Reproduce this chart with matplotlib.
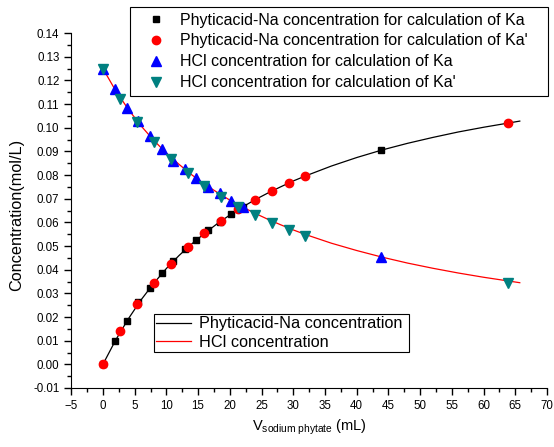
import matplotlib
matplotlib.use("Agg")
import matplotlib.pyplot as plt
from matplotlib.lines import Line2D
from matplotlib.ticker import MultipleLocator

plt.rcParams["font.family"] = ["Liberation Sans", "DejaVu Sans"]
plt.rcParams["mathtext.fontset"] = "custom"
plt.rcParams["mathtext.rm"] = "Liberation Sans"
plt.rcParams["mathtext.it"] = "Liberation Sans"

# scatter data
na_ka_x = [0.0, 1.9, 3.8, 5.6, 7.4, 9.25, 11.1, 12.9, 14.7, 16.6, 18.4, 20.2, 22.1, 43.9]
na_ka_y = [0.0, 0.0097, 0.0184, 0.0262, 0.0324, 0.0384, 0.0436, 0.0486, 0.0525, 0.0567,
           0.0602, 0.0637, 0.0666, 0.0904]
na_kap_x = [0.0, 2.7, 5.4, 8.0, 10.8, 13.4, 16.0, 18.6, 21.3, 24.0, 26.7, 29.4, 31.9, 63.9]
na_kap_y = [0.0, 0.0139, 0.0254, 0.0344, 0.0426, 0.0494, 0.0556, 0.0607, 0.0655, 0.0694,
            0.0733, 0.0767, 0.0796, 0.1021]
hcl_ka_x = na_ka_x
hcl_ka_y = [0.125, 0.1163, 0.1085, 0.1027, 0.0965, 0.0912, 0.0858, 0.0825, 0.0786, 0.0749,
            0.0723, 0.0692, 0.0663, 0.0454]
hcl_kap_x = na_kap_x
hcl_kap_y = [0.125, 0.1121, 0.1023, 0.0940, 0.0866, 0.0807, 0.0752, 0.0706, 0.0664, 0.0630,
             0.0598, 0.0567, 0.0541, 0.0344]

# fitted curves
curve_x = [0, 2, 4, 6, 8, 10, 12, 14, 16, 18, 20, 22, 24, 26, 28, 30, 32, 36, 40, 44,
           48, 52, 56, 60, 65.7]
na_curve = [0.0, 0.0102, 0.0192, 0.0272, 0.0342, 0.0405, 0.0460, 0.0509, 0.0553, 0.0594,
            0.0631, 0.0665, 0.0696, 0.0724, 0.0750, 0.0775, 0.0797, 0.0838, 0.0874, 0.0906,
            0.0934, 0.0959, 0.0982, 0.1002, 0.1028]
hcl_curve = [0.125, 0.1157, 0.1078, 0.1008, 0.0947, 0.0893, 0.0845, 0.0801, 0.0762, 0.0727,
             0.0694, 0.0665, 0.0638, 0.0613, 0.0590, 0.0568, 0.0548, 0.0512, 0.0481, 0.0453,
             0.0428, 0.0406, 0.0386, 0.0368, 0.0345]

W, H = 554, 447
fig = plt.figure(figsize=(W / 100, H / 100), dpi=100)
ax = fig.add_axes([0.1285, 0.132, 0.859, 0.794])

ax.plot(curve_x, na_curve, color="black", lw=0.9, zorder=2)
ax.plot(curve_x, hcl_curve, color="red", lw=0.9, zorder=2)

ax.plot(na_ka_x, na_ka_y, "s", color="black", ms=5, ls="none", zorder=3)
ax.plot(na_kap_x, na_kap_y, "o", color="red", ms=6, ls="none", zorder=4)
ax.plot(hcl_ka_x, hcl_ka_y, "^", color="blue", ms=7, ls="none", zorder=5)
ax.plot(hcl_kap_x, hcl_kap_y, "v", color="#008080", ms=7, ls="none", zorder=6)

ax.set_xlim(-5, 70)
ax.set_ylim(-0.01, 0.14)
ax.xaxis.set_major_locator(MultipleLocator(5))
ax.xaxis.set_minor_locator(MultipleLocator(2.5))
ax.yaxis.set_major_locator(MultipleLocator(0.01))
ax.yaxis.set_minor_locator(MultipleLocator(0.005))
ax.yaxis.set_major_formatter(plt.FuncFormatter(lambda v, p: f"{v:.2f}"))
ax.tick_params(which="major", direction="out", length=5, width=1, labelsize=8.3)
ax.tick_params(which="minor", direction="out", length=3, width=1)
ax.spines["top"].set_visible(False)
ax.spines["right"].set_visible(False)

ax.set_ylabel("Concentration(mol/L)", fontsize=11.7)
ax.yaxis.set_label_coords(-0.099, 0.487)
ax.set_xlabel(r"V$_{\mathrm{sodium\ phytate}}$ (mL)", fontsize=10.5)

marker_handles = [
    Line2D([], [], marker="s", color="black", ls="none", ms=5),
    Line2D([], [], marker="o", color="red", ls="none", ms=6),
    Line2D([], [], marker="^", color="blue", ls="none", ms=7),
    Line2D([], [], marker="v", color="#008080", ls="none", ms=7),
]
marker_labels = [
    "Phyticacid-Na concentration for calculation of Ka",
    "Phyticacid-Na concentration for calculation of Ka'",
    "HCl concentration for calculation of Ka",
    "HCl concentration for calculation of Ka'",
]
leg1 = ax.legend(marker_handles, marker_labels, loc="upper left",
                 bbox_to_anchor=(130 / W, 1 - 92 / H, 418 / W, 85 / H),
                 bbox_transform=fig.transFigure, mode="expand",
                 fontsize=11.5, frameon=True, fancybox=False, edgecolor="black",
                 framealpha=1, handletextpad=0.2, borderpad=0.35, labelspacing=0.37,
                 handlelength=2.6, borderaxespad=0)
leg1.get_frame().set_linewidth(0.8)
ax.add_artist(leg1)

line_handles = [
    Line2D([], [], color="black", lw=0.9),
    Line2D([], [], color="red", lw=0.9),
]
leg2 = ax.legend(line_handles, ["Phyticacid-Na concentration", "HCl concentration"],
                 loc="upper left",
                 bbox_to_anchor=(154 / W, 1 - 354 / H, 255 / W, 40 / H),
                 bbox_transform=fig.transFigure, mode="expand", fontsize=11.7,
                 frameon=True, fancybox=False, edgecolor="black", framealpha=1,
                 handletextpad=0.45, borderpad=0.15, labelspacing=0.2,
                 handlelength=2.15, borderaxespad=0)
leg2.get_frame().set_linewidth(0.8)

fig.savefig("out.png", dpi=100)
